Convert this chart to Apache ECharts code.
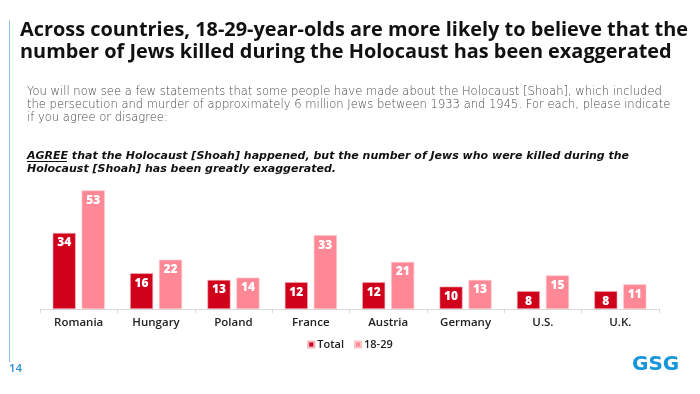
<!DOCTYPE html>
<html>
<head>
<meta charset="utf-8">
<script src="https://cdn.jsdelivr.net/npm/echarts@6/dist/echarts.min.js"></script>
<style>
html,body{margin:0;padding:0;background:#fff;}
#chart{width:700px;height:394px;}
</style>
</head>
<body>
<div id="chart"></div>
<script>
const categories = ['Romania','Hungary','Poland','France','Austria','Germany','U.S.','U.K.'];
const totalValues = [34,16,13,12,12,10,8,8];
const youngValues = [53,22,14,33,21,13,15,11];
const seriesNames = ['Total','18-29'];

const FONT = 'Open Sans';
const chart = echarts.init(document.getElementById('chart'), null, {renderer:'canvas'});
const labelStyle = {show:true, position:'insideTop', color:'#fff', fontWeight:800, fontSize:12, fontFamily:FONT, distance:4};
chart.setOption({
  animation:false,
  textStyle:{fontFamily:FONT},
  grid:{left:40, right:41, top:186, height:123},
  legend:{
    data:seriesNames, top:334, left:'center', itemWidth:6, itemHeight:6, itemGap:10,
    icon:'rect',
    textStyle:{fontSize:11, color:'#222', fontWeight:600, fontFamily:FONT, padding:[0,0,0,-2]}
  },
  xAxis:{
    type:'category', data:categories,
    axisLine:{lineStyle:{color:'#d9d9d9', width:1}},
    axisTick:{show:true, length:4, lineStyle:{color:'#d9d9d9'}},
    axisLabel:{color:'#222', fontSize:11.5, fontWeight:600, margin:8, fontFamily:FONT}
  },
  yAxis:{type:'value', min:0, max:55, show:false, splitLine:{show:false}},
  series:[
    {name:seriesNames[0], type:'bar', data:totalValues, barWidth:23, barGap:'26%',
     itemStyle:{color:'#d0011b', borderColor:'#f2b3bc', borderWidth:0.6}, label:labelStyle},
    {name:seriesNames[1], type:'bar', data:youngValues, barWidth:23,
     itemStyle:{color:'#ff8896', borderColor:'#ffc2c9', borderWidth:0.6}, label:labelStyle}
  ],
  graphic:[
    {type:'line', shape:{x1:9.5,y1:20,x2:9.5,y2:362}, style:{stroke:'#8ec3ea', lineWidth:1}},
    {type:'text', left:9, top:363, style:{text:'14', fill:'#2a8fd6', font:'600 11.5px '+FONT}},
    {type:'text', left:632, top:355, style:{text:'GSG', fill:'#1596dc', font:'bold 20px "DejaVu Sans"'}},
    {type:'text', left:20, top:20, style:{
      text:'Across countries, 18-29-year-olds are more likely to believe that the\nnumber of Jews killed during the Holocaust has been exaggerated',
      fill:'#111', font:'bold 19.9px '+FONT, lineHeight:21.5}},
    {type:'text', left:27, top:85, style:{
      text:'You will now see a few statements that some people have made about the Holocaust [Shoah], which included\nthe persecution and murder of approximately 6 million Jews between 1933 and 1945. For each, please indicate\nif you agree or disagree:',
      fill:'#4a4a4a', font:'200 11.55px "DejaVu Sans"', lineHeight:13.3}},
    {type:'text', left:27, top:150, style:{
      text:'AGREE that the Holocaust [Shoah] happened, but the number of Jews who were killed during the\nHolocaust [Shoah] has been greatly exaggerated.',
      fill:'#111', font:'oblique bold 11px "DejaVu Sans"', lineHeight:12.5}},
    {type:'line', shape:{x1:27,y1:161.5,x2:67,y2:161.5}, style:{stroke:'#111', lineWidth:1}}
  ]
});
</script>
</body>
</html>
